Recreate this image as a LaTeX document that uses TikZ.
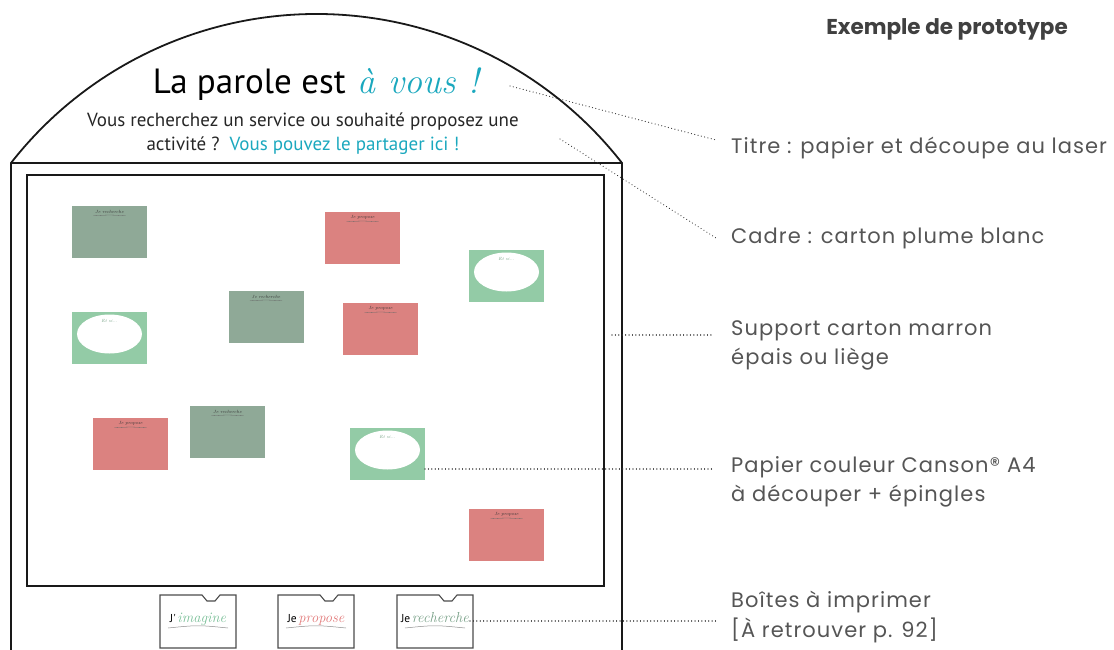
\documentclass[tikz,border=0pt]{standalone}
\usepackage{fontspec}
\usetikzlibrary{calc}
\newfontfamily\ptsans{PT Sans}
\newfontfamily\labfont{Poppins}[LetterSpace=5]
\newfontfamily\headfont{Poppins}
\definecolor{tealc}{RGB}{27,168,190}
\definecolor{cardG}{RGB}{143,169,151}
\definecolor{cardP}{RGB}{219,130,128}
\definecolor{cardL}{RGB}{147,203,166}
\definecolor{labgray}{RGB}{85,85,85}
\definecolor{headgray}{RGB}{64,64,64}
\definecolor{scriptG}{RGB}{120,190,150}
\definecolor{scriptP}{RGB}{225,120,120}
\definecolor{scriptR}{RGB}{120,160,135}
\tikzset{
  board/.style={draw=black!90, line width=1.8pt},
  boxline/.style={draw=black!70, line width=1.1pt},
  cardbase/.style={minimum width=75pt, minimum height=52pt, inner sep=0pt, draw=none},
  gcard/.style={cardbase, fill=cardG},
  pcard/.style={cardbase, fill=cardP},
  lcard/.style={cardbase, fill=cardL},
  cardtxt/.style={font=\fontsize{4.5}{5}\selectfont\itshape, text=black!80, inner sep=0pt},
  leader/.style={draw=black!80, line width=1.2pt, dash pattern=on 0.01pt off 3.4pt, line cap=round},
  lab/.style={font=\labfont\fontsize{21}{29}\selectfont, text=labgray, align=left, anchor=west, inner sep=0pt},
  boxtxt/.style={inner sep=0pt, anchor=base}
}
\begin{document}
\begin{tikzpicture}[x=1pt,y=-1pt]
\useasboundingbox (0,0) rectangle (1114,650);
% heading
\node[font=\headfont\bfseries\fontsize{21.5}{21.5}\selectfont, text=headgray, anchor=base] (head) at (947,35) {Exemple de prototype};
% board and arch
\draw[board] (11,660) -- (11,163) arc[start angle=-142, end angle=-38, radius=387.7] -- (622,660);
\draw[board] (11,163) -- (622,163);
\draw[board] (27,175) rectangle (604,586);
% title
\node[anchor=base, inner sep=0pt] (title) at (316,94) {{\ptsans\fontsize{35}{35}\selectfont La parole est}\hspace{12pt}{\color{tealc}\itshape\fontsize{36}{36}\selectfont à vous !}};
\node[anchor=north, align=center, inner sep=0pt, font=\ptsans\fontsize{19}{23.5}\selectfont, text=black!85] (sub) at (303,113) {Vous recherchez un service ou souhaité proposez une\\activité ?\ \ {\color{tealc}Vous pouvez le partager ici !}};
% cards: je recherche
\foreach \n/\x/\y in {g1/109.5/232, g2/266/317, g3/227.5/432}{
  \node[gcard] (\n) at (\x,\y) {};
  \node[cardtxt] at ($(\n.north)+(0,6)$) {Je recherche};
  \draw[black!60, line width=0.3pt] ($(\n.north)+(-16,10)$) .. controls ($(\n.north)+(0,9)$) .. ($(\n.north)+(16,10)$);
}
% cards: je propose
\foreach \n/\x/\y in {p1/362.5/238, p2/380.5/329, p3/130.5/444, p4/506.5/535}{
  \node[pcard] (\n) at (\x,\y) {};
  \node[cardtxt] at ($(\n.north)+(0,6)$) {Je propose};
  \draw[black!60, line width=0.3pt] ($(\n.north)+(-16,10)$) .. controls ($(\n.north)+(0,9)$) .. ($(\n.north)+(16,10)$);
}
% cards: et si
\foreach \n/\x/\y in {l1/506.5/276, l2/109.5/338, l3/387.5/454}{
  \node[lcard] (\n) at (\x,\y) {};
  \fill[white] ($(\n.center)+(0,-4)$) ellipse[x radius=32.5, y radius=19.5];
  \node[cardtxt, text=cardL!80!black] at ($(\n.north)+(0,9)$) {Et si...};
}
% printed boxes
\foreach \n/\L/\a/\b/\c in {b1/160/J'/imagine/scriptG, b2/278/Je/propose/scriptP, b3/397/Je/recherche/scriptR}{
  \draw[boxline] (\L,595) -- ++(42,0) -- ++(5,6) -- ++(8,0) -- ++(5,-6) -- (\L+76,595) -- (\L+76,648) -- (\L,648) -- cycle;
  \node[boxtxt] (\n) at (\L+38,622) {{\ptsans\fontsize{11.5}{11}\selectfont\a}\,{\color{\c}\itshape\fontsize{14.5}{14}\selectfont\b}};
  \draw[black!45, line width=0.5pt] (\L+8,628) .. controls (\L+38,625) .. (\L+68,628);
}
% labels
\node[lab] (t1) at (731,148.5) {Titre : papier et découpe au laser};
\node[lab] (t2) at (731,238.5) {Cadre : carton plume blanc};
\node[lab] (t3) at (731,345) {Support carton marron\\épais ou liège};
\node[lab] (t4) at (731,482) {Papier couleur Canson® A4\\à découper + épingles};
\node[lab, font=\labfont\fontsize{21}{30.5}\selectfont] (t5) at (731,617) {Boîtes à imprimer\\{[}À retrouver p. 92{]}};
% leader coordinates
\coordinate (s1) at (510,86);   \coordinate (e1) at (716,140);
\coordinate (s2) at (560,139);  \coordinate (e2) at (716,238);
\coordinate (s3) at (612,335);  \coordinate (e3) at (712,335);
\coordinate (s4) at (425,469);  \coordinate (e4) at (712,469);
\coordinate (s5) at (470,621);  \coordinate (e5) at (716,621);
\draw[leader] (s1) -- (e1);
\draw[leader] (s2) -- (e2);
\draw[leader] (s3) -- (e3);
\draw[leader] (s4) -- (e4);
\draw[leader] (s5) -- (e5);
\end{tikzpicture}
\end{document}
